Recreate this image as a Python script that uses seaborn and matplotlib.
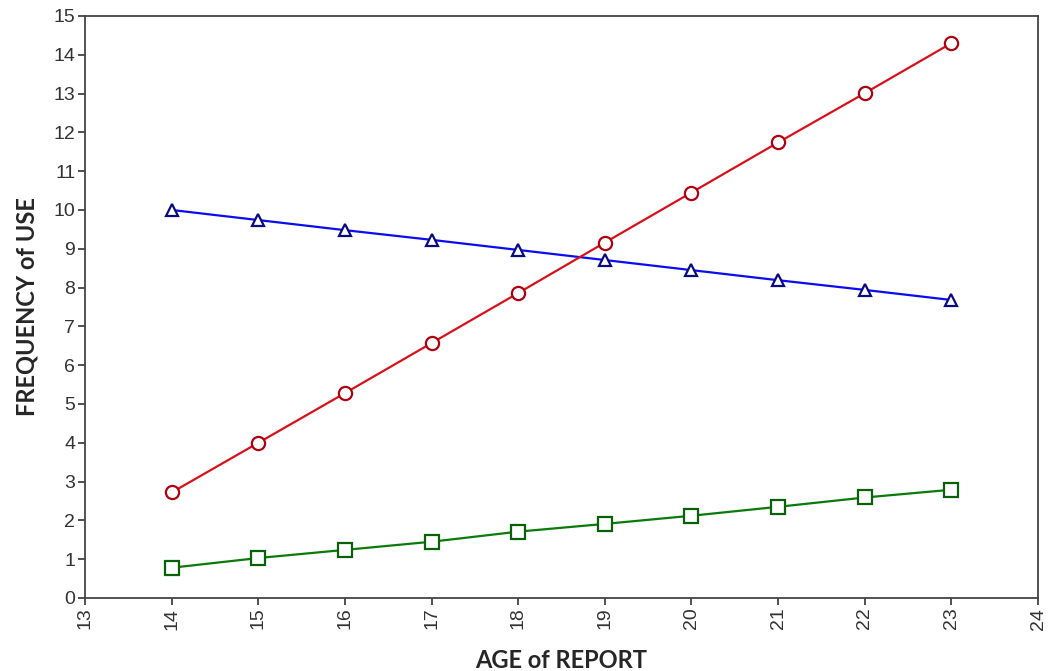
import matplotlib
matplotlib.use("Agg")
import matplotlib.pyplot as plt
import seaborn as sns
import pandas as pd

# data
ages = [14, 15, 16, 17, 18, 19, 20, 21, 22, 23]
blue_vals = [10.0, 9.74, 9.48, 9.23, 8.97, 8.71, 8.45, 8.19, 7.94, 7.68]
red_vals = [2.72, 4.0, 5.28, 6.57, 7.86, 9.16, 10.45, 11.74, 13.01, 14.3]
green_vals = [0.78, 1.03, 1.24, 1.45, 1.71, 1.91, 2.12, 2.35, 2.59, 2.79]
x_ticks = list(range(13, 25))
y_ticks = list(range(0, 16))

series = [
    ("blue", blue_vals, "#0c0cf0", "#0a0a80", "^", 8.5),
    ("red", red_vals, "#d8101c", "#b00010", "o", 9.5),
    ("green", green_vals, "#0a7a0a", "#086008", "s", 9.5),
]

sns.set_style("ticks")
plt.rcParams['font.family'] = ['Liberation Sans', 'DejaVu Sans']

fig = plt.figure(figsize=(10.5, 6.71), dpi=100)
ax = fig.add_axes([0.081, 0.1088, 0.9076, 0.8674])

for name, vals, col, edge, mk, ms in series:
    df = pd.DataFrame({"age": ages, "freq": vals})
    sns.lineplot(data=df, x="age", y="freq", ax=ax, color=col, linewidth=1.6,
                 marker=mk, markersize=ms, markerfacecolor="white",
                 markeredgecolor=edge, markeredgewidth=1.6)

ax.set_xlim(13, 24)
ax.set_ylim(0, 15)
ax.set_xticks(x_ticks)
ax.set_yticks(y_ticks)
ax.set_xticklabels([str(t) for t in x_ticks], rotation=90)
ax.tick_params(axis="both", labelsize=14, colors="#333333", length=5,
               width=1.2, direction="out", pad=2)
for s in ax.spines.values():
    s.set_color("#444444")
    s.set_linewidth(1.3)

ax.set_xlabel("AGE of REPORT", fontsize=17, fontweight="bold",
              family=["Lato", "DejaVu Sans"], labelpad=14)
ax.set_ylabel("FREQUENCY of USE", fontsize=17, fontweight="bold",
              family=["Lato", "DejaVu Sans"], labelpad=11)

fig.savefig("out.png", dpi=100)
